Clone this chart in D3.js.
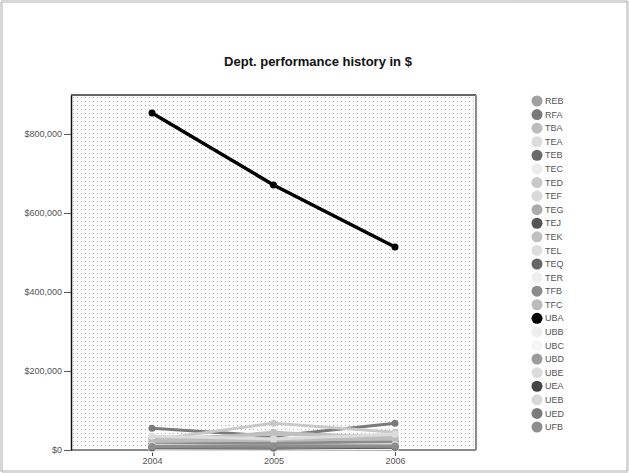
<!DOCTYPE html>
<html>
<head>
<meta charset="utf-8">
<script src="https://cdn.jsdelivr.net/npm/d3@7"></script>
<style>
  html, body { margin: 0; padding: 0; background: #fff; }
  svg { display: block; font-family: "Liberation Sans", Arial, sans-serif; }
</style>
</head>
<body>
<svg id="chart" width="629" height="473"></svg>
<script>
// Years on the x axis
const years = ["2004", "2005", "2006"];

// Department codes, in legend order
const depts = ["REB","RFA","TBA","TEA","TEB","TEC","TED","TEF","TEG","TEJ","TEK","TEL",
               "TEQ","TER","TFB","TFC","UBA","UBB","UBC","UBD","UBE","UEA","UEB","UED","UFB"];

// Yearly performance per department, in dollars
const REB = [30000, 25000, 20000];
const RFA = [55000, 35000, 68000];
const TBA = [20000, 45000, 30000];
const TEA = [15000, 20000, 12000];
const TEB = [8000, 10000, 8000];
const TEC = [5000, 6000, 5000];
const TED = [25000, 68000, 45000];
const TEF = [12000, 15000, 25000];
const TEG = [18000, 30000, 22000];
const TEJ = [5000, 4000, 8000];
const TEK = [28000, 40000, 35000];
const TEL = [10000, 12000, 15000];
const TEQ = [3000, 3000, 5000];
const TER = [6000, 8000, 6000];
const TFB = [15000, 18000, 20000];
const TFC = [22000, 25000, 28000];
const UBA = [853000, 671000, 514000];
const UBB = [4000, 5000, 4000];
const UBC = [2000, 2000, 3000];
const UBD = [10000, 8000, 12000];
const UBE = [35000, 28000, 40000];
const UEA = [6000, 5000, 7000];
const UEB = [12000, 10000, 14000];
const UED = [7000, 6000, 9000];
const UFB = [9000, 11000, 10000];

const seriesValues = [REB,RFA,TBA,TEA,TEB,TEC,TED,TEF,TEG,TEJ,TEK,TEL,
                      TEQ,TER,TFB,TFC,UBA,UBB,UBC,UBD,UBE,UEA,UEB,UED,UFB];

// Y axis tick values
const yTicks = [0, 200000, 400000, 600000, 800000];

// Grey shades per department
const shades = ["#a0a0a0","#7a7a7a","#bdbdbd","#dcdcdc","#6a6a6a","#ececec","#c8c8c8","#dadada",
                "#ababab","#555555","#c0c0c0","#dedede","#666666","#eeeeee","#8c8c8c","#bcbcbc",
                "#000000","#eeeeee","#f6f6f6","#9c9c9c","#dcdcdc","#454545","#d8d8d8","#7c7c7c","#8e8e8e"];

const series = depts.map((d, i) => ({
  name: d, color: shades[i],
  values: seriesValues[i].map((v, j) => ({ year: years[j], value: v }))
}));

const svg = d3.select("#chart");
const W = 629, H = 473;

// dotted frame around the whole picture
svg.append("rect").attr("x", 1.5).attr("y", 1.5).attr("width", W - 3).attr("height", H - 3)
  .attr("fill", "none").attr("stroke", "#b0b0b0").attr("stroke-width", 3)
  .attr("stroke-dasharray", "1 1");

const plot = { left: 71, top: 95, right: 476, bottom: 450 };

const defs = svg.append("defs");
const pat = defs.append("pattern").attr("id", "dots").attr("patternUnits", "userSpaceOnUse")
  .attr("width", 4).attr("height", 4);
pat.append("rect").attr("width", 4).attr("height", 4).attr("fill", "#fff");
pat.append("rect").attr("x", 1).attr("y", 1).attr("width", 1).attr("height", 1).attr("fill", "#b8b8b8");

const x = d3.scalePoint().domain(years).range([plot.left, plot.right]).padding(0.667);
const y = d3.scaleLinear().domain([0, 898700]).range([plot.bottom, plot.top]);

// plot background
svg.append("rect").attr("x", plot.left).attr("y", plot.top)
  .attr("width", plot.right - plot.left).attr("height", plot.bottom - plot.top)
  .attr("fill", "url(#dots)");

// frame: dark top/left, grey right/bottom
svg.append("line").attr("x1", plot.left).attr("x2", plot.right).attr("y1", plot.top).attr("y2", plot.top)
  .attr("stroke", "#333").attr("stroke-width", 1.5);
svg.append("line").attr("x1", plot.right).attr("x2", plot.right).attr("y1", plot.top).attr("y2", plot.bottom)
  .attr("stroke", "#8a8a8a").attr("stroke-width", 2);
svg.append("line").attr("x1", plot.left).attr("x2", plot.right).attr("y1", plot.bottom).attr("y2", plot.bottom)
  .attr("stroke", "#8a8a8a").attr("stroke-width", 2);

// Axes
const yAxis = svg.append("g").attr("transform", `translate(${plot.left},0)`)
  .call(d3.axisLeft(y).tickValues(yTicks).tickSizeInner(7).tickSizeOuter(0).tickPadding(2)
    .tickFormat(d => "$" + d3.format(",")(d)));
yAxis.select(".domain").attr("stroke", "#111").attr("stroke-width", 1.5);
yAxis.selectAll(".tick line").attr("stroke", "#555");
yAxis.selectAll(".tick text").attr("fill", "#555").attr("font-size", 9);

const xAxis = svg.append("g").attr("transform", `translate(0,${plot.bottom})`)
  .call(d3.axisBottom(x).tickSize(6).tickPadding(2));
xAxis.select(".domain").remove();
xAxis.selectAll(".tick line").attr("stroke", "#444");
xAxis.selectAll(".tick text").attr("fill", "#555").attr("font-size", 9);

// Lines, with the large UBA series drawn last
const line = d3.line().x(d => x(d.year)).y(d => y(d.value));
const drawOrder = series.filter(s => s.name !== "UBA").concat(series.filter(s => s.name === "UBA"));

const g = svg.append("g");
drawOrder.forEach(s => {
  g.append("path").datum(s.values).attr("d", line)
    .attr("fill", "none").attr("stroke", s.color).attr("stroke-width", s.name === "UBA" ? 3.5 : 3);
  g.selectAll(null).data(s.values).enter().append("circle")
    .attr("cx", d => x(d.year)).attr("cy", d => y(d.value)).attr("r", 3.5)
    .attr("fill", s.color);
});

// Title
svg.append("text").attr("x", 318).attr("y", 66).attr("text-anchor", "middle")
  .attr("font-size", 13).attr("font-weight", "bold").attr("fill", "#111")
  .text("Dept. performance history in $");

// Legend
const legY = d3.scalePoint().domain(depts).range([101, 427]);
const leg = svg.append("g").selectAll("g").data(series).enter().append("g")
  .attr("transform", d => `translate(537,${legY(d.name)})`);
leg.append("circle").attr("r", 5.5).attr("fill", d => d.color);
leg.append("text").attr("x", 8).attr("dy", "0.35em").attr("font-size", 9).attr("fill", "#555")
  .text(d => d.name);
</script>
</body>
</html>
